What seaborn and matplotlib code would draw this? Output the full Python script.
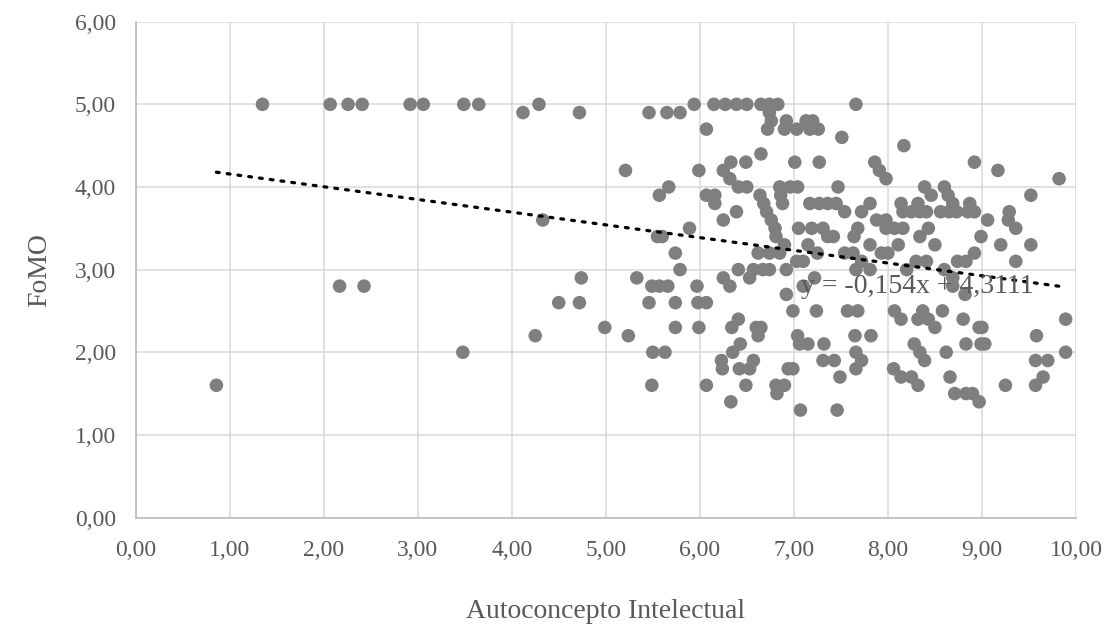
import matplotlib
matplotlib.use("Agg")
import matplotlib.pyplot as plt
import matplotlib.ticker as mticker
import seaborn as sns
import numpy as np
import pandas as pd

# ---- data, grouped by FoMO level ----
y50 = [1.35, 2.07, 2.26, 2.41, 2.92, 3.06, 3.49, 3.65, 4.29, 5.94, 6.15, 6.27, 6.39, 6.50, 6.65, 6.74, 6.83, 7.66]
y49 = [4.12, 4.72, 5.46, 5.65, 5.79, 6.74]
y48 = [6.76, 6.92, 7.13, 7.20]
y47 = [6.07, 6.72, 6.90, 7.03, 7.17, 7.26]
y46 = [7.51]
y45 = [8.17]
y44 = [6.65]
y43 = [6.33, 6.49, 7.01, 7.27, 7.86, 8.92]
y42 = [5.21, 5.99, 6.25, 7.91, 9.17]
y41 = [6.32, 7.98, 9.82]
y40 = [5.67, 6.41, 6.50, 6.85, 6.96, 7.04, 7.47, 8.39, 8.60]
y39 = [5.57, 6.07, 6.16, 6.64, 6.86, 8.46, 8.64, 9.52]
y38 = [6.16, 6.68, 6.88, 7.17, 7.27, 7.36, 7.45, 7.81, 8.14, 8.32, 8.69, 8.87]
y37 = [6.39, 6.71, 7.54, 7.72, 8.16, 8.25, 8.34, 8.41, 8.56, 8.65, 8.73, 8.85, 8.92, 9.29]
y36 = [4.33, 6.25, 6.76, 7.88, 7.98, 9.06, 9.28]
y35 = [5.89, 6.80, 7.05, 7.19, 7.31, 7.68, 7.98, 8.07, 8.16, 8.43, 9.36]
y34 = [5.55, 5.60, 6.81, 7.36, 7.42, 7.64, 8.34, 8.99]
y33 = [6.90, 7.15, 7.81, 8.11, 8.50, 9.20, 9.52]
y32 = [5.74, 6.62, 6.74, 6.85, 7.25, 7.54, 7.63, 7.93, 8.00, 8.92]
y31 = [7.03, 7.10, 7.72, 8.30, 8.41, 8.74, 8.83, 9.36]
y30 = [5.79, 6.41, 6.57, 6.67, 6.74, 6.92, 7.66, 7.81, 8.20, 8.60]
y29 = [4.74, 5.33, 6.25, 6.53, 7.22, 8.69]
y28 = [2.17, 2.43, 5.49, 5.57, 5.66, 5.97, 6.32, 7.10, 8.69]
y27 = [6.92, 8.82]
y26 = [4.50, 4.72, 5.46, 5.74, 5.98, 6.07]
y25 = [6.99, 7.24, 7.57, 7.68, 8.07, 8.37, 8.58]
y24 = [6.41, 8.14, 8.32, 8.43, 8.80, 9.89]
y23 = [4.99, 5.74, 5.99, 6.34, 6.60, 6.65, 8.50, 8.97, 9.00]
y22 = [4.25, 5.24, 6.62, 7.04, 7.65, 7.82, 9.58]
y21 = [6.43, 7.06, 7.15, 7.32, 8.28, 8.83, 8.99, 9.03]
y20 = [3.48, 5.50, 5.63, 6.35, 7.66, 8.34, 8.62, 9.89]
y19 = [6.23, 6.57, 7.31, 7.43, 7.72, 8.39, 9.57, 9.70]
y18 = [6.24, 6.42, 6.53, 6.94, 6.99, 7.66, 8.06]
y17 = [7.49, 8.14, 8.25, 8.66, 9.65]
y16 = [0.86, 5.49, 6.07, 6.49, 6.81, 6.90, 8.32, 9.25, 9.57]
y15 = [6.82, 8.71, 8.83, 8.90]
y14 = [6.33, 8.97]
y13 = [7.07, 7.46]

groups = {
    5.0: y50, 4.9: y49, 4.8: y48, 4.7: y47, 4.6: y46, 4.5: y45, 4.4: y44,
    4.3: y43, 4.2: y42, 4.1: y41, 4.0: y40, 3.9: y39, 3.8: y38, 3.7: y37,
    3.6: y36, 3.5: y35, 3.4: y34, 3.3: y33, 3.2: y32, 3.1: y31, 3.0: y30,
    2.9: y29, 2.8: y28, 2.7: y27, 2.6: y26, 2.5: y25, 2.4: y24, 2.3: y23,
    2.2: y22, 2.1: y21, 2.0: y20, 1.9: y19, 1.8: y18, 1.7: y17, 1.6: y16,
    1.5: y15, 1.4: y14, 1.3: y13,
}

slope = -0.154
intercept = 4.3111
trend_label = "y = -0,154x + 4,3111"
x_title = "Autoconcepto Intelectual"
y_title = "FoMO"

rows = [(x, yv) for yv, xs in groups.items() for x in xs]
df = pd.DataFrame(rows, columns=["Autoconcepto", "FoMO"])

# ---- styling ----
sns.set_theme(style="white")
plt.rcParams["font.family"] = ["Liberation Serif", "DejaVu Serif"]
TEXT = "#595959"
GRID = "#d9d9d9"
AXIS = "#bfbfbf"
FS = 17
FS_TITLE = 20

fig = plt.figure(figsize=(11.10, 6.34), dpi=100)
ax = fig.add_axes([135.5 / 1110, 1 - 517.5 / 634, (1076 - 135.5) / 1110, (517.5 - 21.7) / 634])

sns.scatterplot(data=df, x="Autoconcepto", y="FoMO", ax=ax, color="#7f7f7f",
                s=95, edgecolor="none", linewidth=0, zorder=3)

xs_line = np.array([df["Autoconcepto"].min(), df["Autoconcepto"].max()])
ax.plot(xs_line, slope * xs_line + intercept, color="black", lw=2.3,
        linestyle=(0, (0.9, 2.5)), dash_capstyle="round", zorder=4)

ax.text(8.31, 2.80, trend_label, fontsize=FS_TITLE, color=TEXT, ha="center", va="center", zorder=5)

ax.set_xlim(0, 10)
ax.set_ylim(0, 6)
ax.xaxis.set_major_locator(mticker.MultipleLocator(1))
ax.yaxis.set_major_locator(mticker.MultipleLocator(1))
fmt = mticker.FuncFormatter(lambda v, p: f"{v:.2f}".replace(".", ","))
ax.xaxis.set_major_formatter(fmt)
ax.yaxis.set_major_formatter(fmt)

ax.grid(True, color=GRID, linewidth=1.1, zorder=0)
ax.set_axisbelow(True)
for side in ["top", "right"]:
    ax.spines[side].set_visible(False)
for side in ["left", "bottom"]:
    ax.spines[side].set_color(AXIS)
    ax.spines[side].set_linewidth(1.3)

ax.tick_params(axis="x", which="major", length=5, width=1, color=AXIS, direction="out",
               labelsize=FS, labelcolor=TEXT, pad=11)
ax.tick_params(axis="y", which="major", length=0, labelsize=FS, labelcolor=TEXT, pad=14)

ax.set_xlabel("")
ax.set_ylabel("")
fig.text(605.7 / 1110, 1 - 612 / 634, x_title, fontsize=FS_TITLE, color=TEXT, ha="center", va="center")
fig.text(40 / 1110, 1 - 270 / 634, y_title, fontsize=FS_TITLE, color=TEXT, ha="center", va="center",
         rotation=90)

fig.savefig("out.png", dpi=100)
